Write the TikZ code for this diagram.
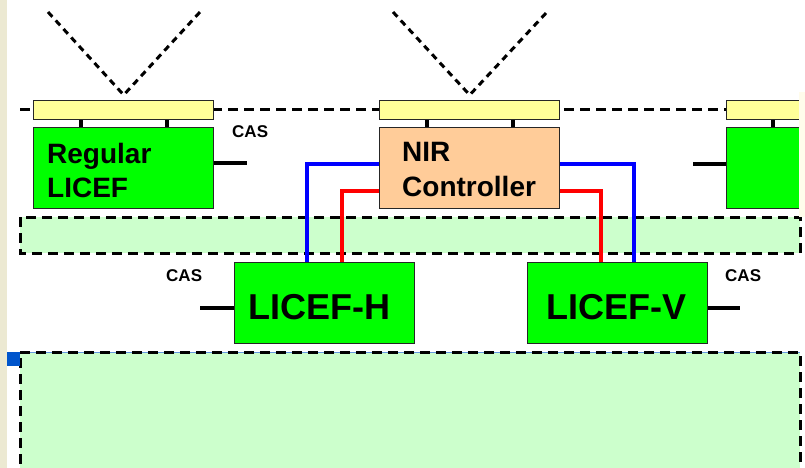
\documentclass[tikz,border=0pt]{standalone}
\usepackage{fontspec}
\setmainfont{Liberation Sans}
\definecolor{licgreen}{HTML}{00FF00}
\definecolor{peach}{HTML}{FFCC99}
\definecolor{baryellow}{HTML}{FFFF99}
\definecolor{bandgreen}{HTML}{CCFFCC}
\definecolor{wblue}{HTML}{0000FF}
\definecolor{wred}{HTML}{FF0000}
\definecolor{cream}{HTML}{FFFCEB}
\definecolor{leftstrip}{HTML}{ECE9D2}
\definecolor{selblue}{HTML}{0055CC}
\begin{document}
\begin{tikzpicture}[x=1pt,y=-1pt,
  box/.style={draw=black!85, line width=1.4pt, minimum width=180pt, minimum height=81pt, anchor=north west, inner sep=0pt},
  greenbox/.style={box, fill=licgreen},
  nirbox/.style={box, fill=peach},
  bar/.style={draw=black!85, line width=1.4pt, fill=baryellow, minimum width=180pt, minimum height=19pt, anchor=north west, inner sep=0pt},
  band/.style={draw=black, line width=3pt, dash pattern=on 10pt off 6pt, fill=bandgreen},
  stub/.style={line width=4pt, draw=black},
  wireb/.style={line width=4pt, draw=wblue},
  wirer/.style={line width=4pt, draw=wred},
  antenna/.style={line width=3pt, dash pattern=on 6.5pt off 5pt, draw=black},
  bus/.style={line width=3pt, dash pattern=on 10pt off 6pt, draw=black},
  midtext/.style={font=\bfseries\fontsize{28}{34}\selectfont, anchor=base west, inner sep=0pt},
  bigtext/.style={font=\bfseries\fontsize{36}{40}\selectfont, anchor=base, inner sep=0pt},
  cas/.style={font=\bfseries\fontsize{17}{20}\selectfont, anchor=base west, inner sep=0pt}]
\useasboundingbox (0,0) rectangle (805,468);
\clip (0,0) rectangle (805,468);
\fill[white] (0,0) rectangle (805,468);

% bands
\path[band] (20,217) rectangle (800,253);
\fill[bandgreen] (20,352) rectangle (800,480);
\draw[selblue!60, line width=0.8pt] (20,352.5) -- (800,352.5);
\draw[band, fill=none] (20,480) -- (20,352) -- (800,352) -- (800,480);

% top bus line
\coordinate (busL) at (20,110);
\coordinate (busR) at (726,110);
\draw[bus] (busL) -- (busR);

% yellow bars
\node[bar] (b1) at (33,100) {};
\node[bar] (b2) at (379,100) {};
\node[bar, minimum width=120pt] (b3) at (726,100) {};

% antennas
\coordinate (a1) at ([yshift=5pt]b1.north);
\coordinate (a1l) at (48,12);
\coordinate (a1r) at (200,12);
\draw[antenna] (a1l) -- (a1) -- (a1r);
\coordinate (a2) at ([yshift=5pt]b2.north);
\coordinate (a2l) at (393,12);
\coordinate (a2r) at (547,12);
\draw[antenna] (a2l) -- (a2) -- (a2r);

% boxes
\node[greenbox] (reg) at (33,127) {};
\node[nirbox] (nir) at (379,127) {};
\node[greenbox, minimum width=120pt] (r3) at (726,127) {};
\node[greenbox] (lh) at (234,262) {};
\node[greenbox] (lv) at (527,262) {};

% bar-to-box stubs
\draw[stub] ([xshift=48pt]b1.south west) -- ([xshift=48pt]reg.north west);
\draw[stub] ([xshift=134pt]b1.south west) -- ([xshift=134pt]reg.north west);
\draw[stub] ([xshift=48pt]b2.south west) -- ([xshift=48pt]nir.north west);
\draw[stub] ([xshift=134pt]b2.south west) -- ([xshift=134pt]nir.north west);
\draw[stub] ([xshift=47pt]b3.south west) -- ([xshift=47pt]r3.north west);

% CAS stubs
\coordinate (c1) at (247,163);
\draw[stub] (reg.east |- c1) -- (c1);
\coordinate (c3) at (693,164);
\draw[stub] (r3.west |- c3) -- (c3);
\coordinate (ch) at (200,308);
\draw[stub] (lh.west |- ch) -- (ch);
\coordinate (cv) at (740,308);
\draw[stub] (lv.east |- cv) -- (cv);

% wires
\draw[wireb] ([yshift=4.2pt]nir.west) -| ([xshift=-17.3pt]lh.north);
\draw[wirer] ([yshift=-23.2pt]nir.west) -| ([xshift=17pt]lh.north);
\draw[wireb] ([yshift=4.2pt]nir.east) -| ([xshift=16pt]lv.north);
\draw[wirer] ([yshift=-23.2pt]nir.east) -| ([xshift=-16.7pt]lv.north);

% texts
\node[midtext] (regt1) at (47,163) {Regular};
\node[midtext] (regt2) at (47,197) {LICEF};
\node[midtext] (nirt1) at (402,161) {NIR};
\node[midtext] (nirt2) at (402,196) {Controller};
\node[bigtext] (lht) at (319.5,319) {LICEF-H};
\node[bigtext] (lvt) at (616.5,319) {LICEF-V};
\node[cas] (cas1) at (232,137) {CAS};
\node[cas] (cas2) at (166,281) {CAS};
\node[cas] (cas3) at (725,281) {CAS};

% edge strips
\fill[cream] (799,92) rectangle (805,217);
\fill[leftstrip] (0,0) rectangle (7,468);
\fill[selblue] (7,352) rectangle (20,366);
\end{tikzpicture}
\end{document}
